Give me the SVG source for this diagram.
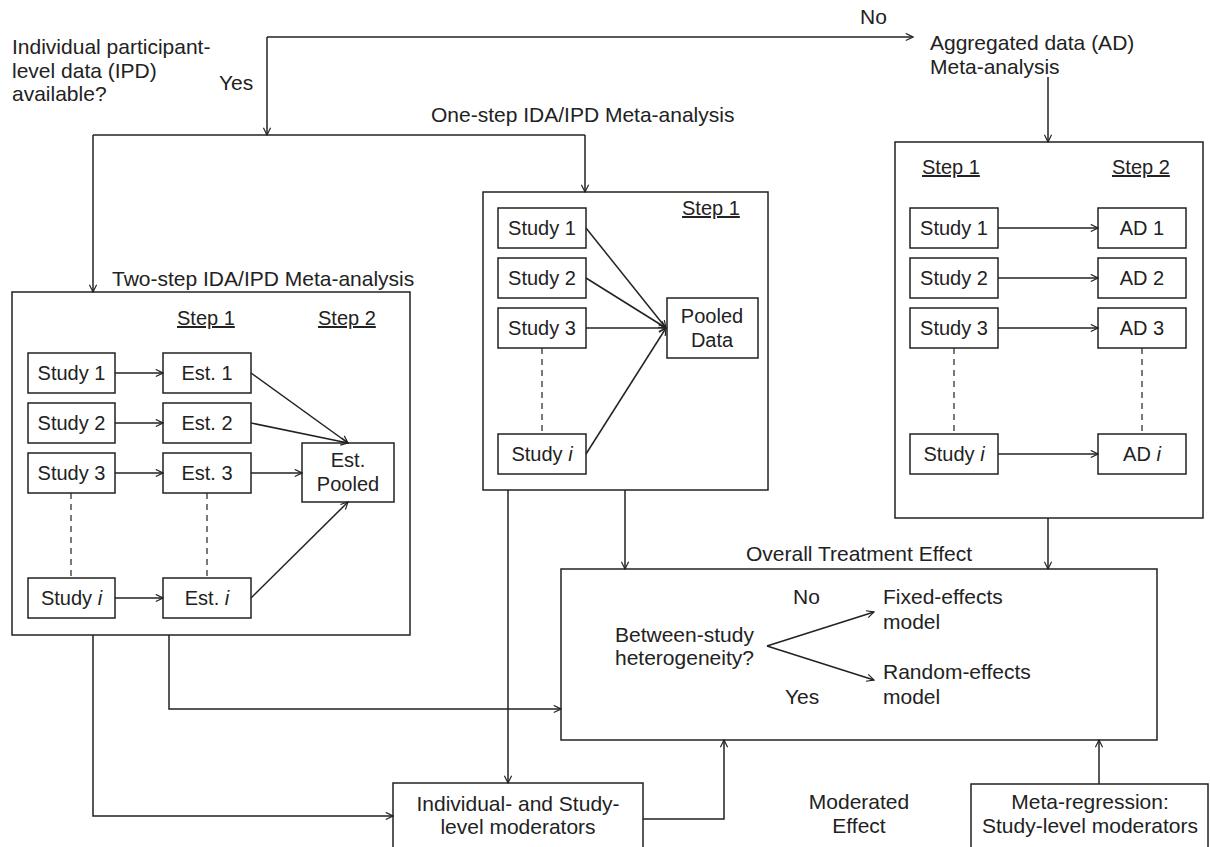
<svg xmlns="http://www.w3.org/2000/svg" width="1210" height="847" viewBox="0 0 1210 847">
<style>
text{font-family:"Liberation Sans",Arial,sans-serif;fill:#222;font-size:20px}
.lbl{font-size:21px}
.u{text-decoration:underline}
.box{fill:#fff;stroke:#222;stroke-width:1.5}
.c{fill:none;stroke:#222;stroke-width:1.5}
.d{fill:none;stroke:#222;stroke-width:1.2;stroke-dasharray:6,5}
.mid{text-anchor:middle}
</style>
<defs>
<marker id="ar" viewBox="0 0 10 10" refX="9" refY="5" markerWidth="9" markerHeight="9" markerUnits="userSpaceOnUse" orient="auto">
<path d="M1,1 L9,5 L1,9" fill="none" stroke="#222" stroke-width="1.3"/>
</marker>
</defs>
<rect width="1210" height="847" fill="#fff"/>

<g id="labels">
<text class="lbl" x="12" y="54">Individual participant-</text>
<text class="lbl" x="12" y="78">level data (IPD)</text>
<text class="lbl" x="12" y="101">available?</text>
<text class="lbl" x="219" y="90">Yes</text>
<text class="lbl" x="860" y="24">No</text>
<text class="lbl" x="431" y="122">One-step IDA/IPD Meta-analysis</text>
<text class="lbl" x="112" y="286">Two-step IDA/IPD Meta-analysis</text>
<text class="lbl" x="930" y="50">Aggregated data (AD)</text>
<text class="lbl" x="930" y="74">Meta-analysis</text>
<text class="lbl mid" x="859" y="561">Overall Treatment Effect</text>
<text class="lbl mid" x="859" y="809">Moderated</text>
<text class="lbl mid" x="859" y="833">Effect</text>
</g>

<g id="two-step">
<rect class="box" x="12" y="292" width="398" height="343"/>
<text class="u" x="177" y="325">Step 1</text>
<text class="u" x="318" y="325">Step 2</text>
<g id="ts-study1"><rect class="box" x="28" y="353" width="87" height="40"/><text class="mid" x="71.5" y="380">Study 1</text></g>
<g id="ts-study2"><rect class="box" x="28" y="403" width="87" height="40"/><text class="mid" x="71.5" y="430">Study 2</text></g>
<g id="ts-study3"><rect class="box" x="28" y="453" width="87" height="40"/><text class="mid" x="71.5" y="480">Study 3</text></g>
<g id="ts-studyi"><rect class="box" x="28" y="578" width="87" height="40"/><text class="mid" x="71.5" y="605">Study <tspan font-style="italic">i</tspan></text></g>
<g id="ts-est1"><rect class="box" x="163" y="353" width="88" height="40"/><text class="mid" x="207" y="380">Est. 1</text></g>
<g id="ts-est2"><rect class="box" x="163" y="403" width="88" height="40"/><text class="mid" x="207" y="430">Est. 2</text></g>
<g id="ts-est3"><rect class="box" x="163" y="453" width="88" height="40"/><text class="mid" x="207" y="480">Est. 3</text></g>
<g id="ts-esti"><rect class="box" x="163" y="578" width="88" height="40"/><text class="mid" x="207" y="605">Est. <tspan font-style="italic">i</tspan></text></g>
<g id="ts-pooled"><rect class="box" x="302" y="443" width="92" height="59"/><text class="mid" x="348" y="467">Est.</text><text class="mid" x="348" y="491">Pooled</text></g>
</g>

<g id="one-step">
<rect class="box" x="483" y="192" width="285" height="298"/>
<text class="u" x="682" y="215">Step 1</text>
<g id="os-study1"><rect class="box" x="498" y="208" width="88" height="40"/><text class="mid" x="542" y="235">Study 1</text></g>
<g id="os-study2"><rect class="box" x="498" y="258" width="88" height="40"/><text class="mid" x="542" y="285">Study 2</text></g>
<g id="os-study3"><rect class="box" x="498" y="308" width="88" height="40"/><text class="mid" x="542" y="335">Study 3</text></g>
<g id="os-studyi"><rect class="box" x="498" y="434" width="88" height="40"/><text class="mid" x="542" y="461">Study <tspan font-style="italic">i</tspan></text></g>
<g id="os-pooled"><rect class="box" x="667" y="298" width="91" height="60"/><text class="mid" x="712" y="323">Pooled</text><text class="mid" x="712" y="347">Data</text></g>
</g>

<g id="ad">
<rect class="box" x="895" y="142" width="308" height="376"/>
<text class="u" x="922" y="174">Step 1</text>
<text class="u" x="1112" y="174">Step 2</text>
<g id="ad-study1"><rect class="box" x="910" y="208" width="88" height="40"/><text class="mid" x="954" y="235">Study 1</text></g>
<g id="ad-study2"><rect class="box" x="910" y="258" width="88" height="40"/><text class="mid" x="954" y="285">Study 2</text></g>
<g id="ad-study3"><rect class="box" x="910" y="308" width="88" height="40"/><text class="mid" x="954" y="335">Study 3</text></g>
<g id="ad-studyi"><rect class="box" x="910" y="434" width="88" height="40"/><text class="mid" x="954" y="461">Study <tspan font-style="italic">i</tspan></text></g>
<g id="ad-ad1"><rect class="box" x="1098" y="208" width="88" height="40"/><text class="mid" x="1142" y="235">AD 1</text></g>
<g id="ad-ad2"><rect class="box" x="1098" y="258" width="88" height="40"/><text class="mid" x="1142" y="285">AD 2</text></g>
<g id="ad-ad3"><rect class="box" x="1098" y="308" width="88" height="40"/><text class="mid" x="1142" y="335">AD 3</text></g>
<g id="ad-adi"><rect class="box" x="1098" y="434" width="88" height="40"/><text class="mid" x="1142" y="461">AD <tspan font-style="italic">i</tspan></text></g>
</g>

<g id="overall">
<rect class="box" x="561" y="569" width="596" height="171"/>
<text class="lbl" x="615" y="642">Between-study</text>
<text class="lbl" x="615" y="665">heterogeneity?</text>
<text class="lbl" x="793" y="604">No</text>
<text class="lbl" x="785" y="704">Yes</text>
<text class="lbl" x="883" y="604">Fixed-effects</text>
<text class="lbl" x="883" y="629">model</text>
<text class="lbl" x="883" y="679">Random-effects</text>
<text class="lbl" x="883" y="704">model</text>
</g>

<g id="moderators">
<rect class="box" x="393" y="783" width="250" height="80"/>
<text class="lbl mid" x="518" y="811">Individual- and Study-</text>
<text class="lbl mid" x="518" y="834">level moderators</text>
</g>

<g id="meta-regression">
<rect class="box" x="971" y="784" width="237" height="80"/>
<text class="lbl mid" x="1090" y="809">Meta-regression:</text>
<text class="lbl mid" x="1090" y="833">Study-level moderators</text>
</g>

<g id="connectors">
<path class="c" d="M267,37 H913" marker-end="url(#ar)"/>
<path class="c" d="M267,37 V135" marker-end="url(#ar)"/>
<path class="c" d="M93,135 H585"/>
<path class="c" d="M93,135 V292" marker-end="url(#ar)"/>
<path class="c" d="M585,135 V192" marker-end="url(#ar)"/>
<path class="c" d="M1048,77 V142" marker-end="url(#ar)"/>
<!-- two-step -->
<path class="c" d="M115,373 H163" marker-end="url(#ar)"/>
<path class="c" d="M115,423 H163" marker-end="url(#ar)"/>
<path class="c" d="M115,473 H163" marker-end="url(#ar)"/>
<path class="c" d="M115,598 H163" marker-end="url(#ar)"/>
<path class="c" d="M251,373 L348,443" marker-end="url(#ar)"/>
<path class="c" d="M251,423 L348,443" marker-end="url(#ar)"/>
<path class="c" d="M251,473 H302" marker-end="url(#ar)"/>
<path class="c" d="M251,598 L348,502" marker-end="url(#ar)"/>
<path class="d" d="M71,493 V578 M207,493 V578"/>
<!-- one-step -->
<path class="c" d="M586,228 L666,328" marker-end="url(#ar)"/>
<path class="c" d="M586,278 L666,328" marker-end="url(#ar)"/>
<path class="c" d="M586,328 L666,328" marker-end="url(#ar)"/>
<path class="c" d="M586,454 L666,328" marker-end="url(#ar)"/>
<path class="d" d="M542,348 V434"/>
<!-- AD -->
<path class="c" d="M998,228 H1098" marker-end="url(#ar)"/>
<path class="c" d="M998,278 H1098" marker-end="url(#ar)"/>
<path class="c" d="M998,328 H1098" marker-end="url(#ar)"/>
<path class="c" d="M998,454 H1098" marker-end="url(#ar)"/>
<path class="d" d="M954,348 V434 M1142,348 V434"/>
<!-- to overall -->
<path class="c" d="M625,490 V569" marker-end="url(#ar)"/>
<path class="c" d="M1048,518 V569" marker-end="url(#ar)"/>
<path class="c" d="M169,635 V709 H561" marker-end="url(#ar)"/>
<path class="c" d="M93,635 V816 H393" marker-end="url(#ar)"/>
<path class="c" d="M508,490 V783" marker-end="url(#ar)"/>
<path class="c" d="M643,819 H724 V740" marker-end="url(#ar)"/>
<path class="c" d="M1099,784 V740" marker-end="url(#ar)"/>
<path class="c" d="M767,646 L874,612" marker-end="url(#ar)"/>
<path class="c" d="M767,646 L874,680" marker-end="url(#ar)"/>
</g>
</svg>
